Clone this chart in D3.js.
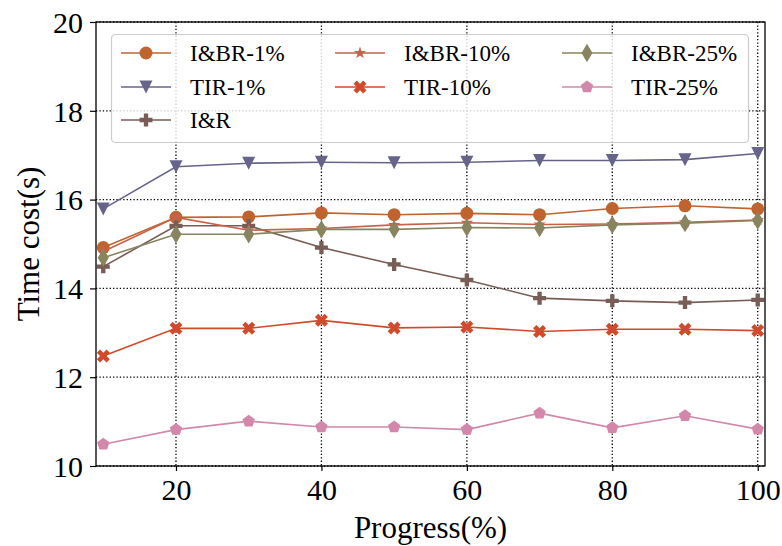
<!DOCTYPE html>
<html>
<head>
<meta charset="utf-8">
<script src="https://cdn.jsdelivr.net/npm/d3@7/dist/d3.min.js"></script>
<style>
  html, body { margin: 0; padding: 0; background: #fff; }
  svg { display: block; font-family: "Liberation Serif", "Times New Roman", serif; }
</style>
</head>
<body>
<svg id="chart" width="782" height="546"></svg>
<script>
// ---- data ----
const progress = [10, 20, 30, 40, 50, 60, 70, 80, 90, 100];
const xTicks = [20, 40, 60, 80, 100];
const yTicks = [10, 12, 14, 16, 18, 20];

const ibr1  = [14.92, 15.60, 15.61, 15.70, 15.66, 15.69, 15.66, 15.80, 15.86, 15.79];
const tir1  = [15.79, 16.74, 16.82, 16.84, 16.83, 16.84, 16.88, 16.88, 16.90, 17.04];
const ir    = [14.49, 15.41, 15.41, 14.92, 14.54, 14.19, 13.78, 13.72, 13.68, 13.74];
const ibr10 = [14.83, 15.60, 15.31, 15.35, 15.43, 15.48, 15.44, 15.45, 15.49, 15.54];
const tir10 = [12.48, 13.10, 13.10, 13.28, 13.11, 13.13, 13.03, 13.08, 13.08, 13.05];
const ibr25 = [14.69, 15.22, 15.22, 15.33, 15.33, 15.37, 15.36, 15.43, 15.47, 15.53];
const tir25 = [10.49, 10.82, 11.01, 10.88, 10.88, 10.82, 11.19, 10.86, 11.13, 10.83];

const seriesNames   = ["I&BR-1%", "TIR-1%", "I&R", "I&BR-10%", "TIR-10%", "I&BR-25%", "TIR-25%"];
const seriesValues  = [ibr1, tir1, ir, ibr10, tir10, ibr25, tir25];
const seriesColors  = ["#c0642f", "#67648c", "#785d56", "#c9604b", "#d04b2b", "#88845f", "#d388ab"];
const seriesMarkers = ["circle", "tridown", "plus", "star", "xfill", "thindiamond", "pentagon"];

// ---- layout ----
const W = 782, H = 546;
const plot = { left: 96, right: 765, top: 22, bottom: 466 };
const x = d3.scaleLinear().domain([9, 101]).range([plot.left, plot.right]);
const y = d3.scaleLinear().domain([10, 20]).range([plot.bottom, plot.top]);
const MS = 13;

const svg = d3.select("#chart");
svg.append("rect").attr("width", W).attr("height", H).attr("fill", "#fff");

// marker paths (centered at origin, extent based on ms)
function poly(pts) { return "M" + pts.map(p => p[0].toFixed(2) + "," + p[1].toFixed(2)).join("L") + "Z"; }
function markerPath(type, ms) {
  const h = ms / 2;
  switch (type) {
    case "circle":
      return d3.symbol(d3.symbolCircle, Math.PI * h * h)();
    case "tridown":
      return poly([[-h, -h], [h, -h], [0, h]]);
    case "plus": {
      const a = ms / 6;
      return poly([[-a,-3*a],[a,-3*a],[a,-a],[3*a,-a],[3*a,a],[a,a],[a,3*a],[-a,3*a],[-a,a],[-3*a,a],[-3*a,-a],[-a,-a]]);
    }
    case "xfill": {
      const s = ms / 4;
      return poly([[-1,-2],[0,-1],[1,-2],[2,-1],[1,0],[2,1],[1,2],[0,1],[-1,2],[-2,1],[-1,0],[-2,-1]].map(p => [p[0]*s, p[1]*s]));
    }
    case "star": {
      const pts = [];
      for (let i = 0; i < 10; i++) {
        const r = i % 2 === 0 ? h : h * 0.381966;
        const ang = -Math.PI / 2 + i * Math.PI / 5;
        pts.push([r * Math.cos(ang), r * Math.sin(ang)]);
      }
      return poly(pts);
    }
    case "pentagon": {
      const pts = [];
      for (let i = 0; i < 5; i++) {
        const ang = -Math.PI / 2 + i * 2 * Math.PI / 5;
        pts.push([h * Math.cos(ang), h * Math.sin(ang)]);
      }
      return poly(pts);
    }
    case "thindiamond": {
      const v = ms * Math.SQRT1_2;
      return poly([[0, -v], [0.6 * v, 0], [0, v], [-0.6 * v, 0]]);
    }
  }
}

// ---- grid ----
const grid = svg.append("g");
xTicks.forEach(t => {
  grid.append("line").attr("x1", x(t)).attr("x2", x(t)).attr("y1", plot.top).attr("y2", plot.bottom)
    .attr("stroke", "#000").attr("stroke-width", 1.3).attr("stroke-dasharray", "1.3,2.1");
});
yTicks.forEach(t => {
  grid.append("line").attr("x1", plot.left).attr("x2", plot.right).attr("y1", y(t)).attr("y2", y(t))
    .attr("stroke", "#000").attr("stroke-width", 1.3).attr("stroke-dasharray", "1.3,2.1");
});

// ---- series ----
const line = d3.line().x((d, i) => x(progress[i])).y(d => y(d));
const dataG = svg.append("g");
seriesValues.forEach((vals, k) => {
  const g = dataG.append("g");
  g.append("path").attr("d", line(vals)).attr("fill", "none")
    .attr("stroke", seriesColors[k]).attr("stroke-width", 1.6);
  g.selectAll("path.m").data(vals).enter().append("path").attr("class", "m")
    .attr("d", markerPath(seriesMarkers[k], MS))
    .attr("transform", (d, i) => `translate(${x(progress[i])},${y(d)})`)
    .attr("fill", seriesColors[k]);
});

// ---- frame & axes ----
svg.append("rect").attr("x", plot.left).attr("y", plot.top)
  .attr("width", plot.right - plot.left).attr("height", plot.bottom - plot.top)
  .attr("fill", "none").attr("stroke", "#000").attr("stroke-width", 1.3);

const xAxis = d3.axisBottom(x).tickValues(xTicks).tickSize(5).tickPadding(8).tickFormat(d3.format("d"));
const yAxis = d3.axisLeft(y).tickValues(yTicks).tickSize(6).tickPadding(7).tickFormat(d3.format("d"));

const gx = svg.append("g").attr("transform", `translate(0,${plot.bottom})`).call(xAxis);
const gy = svg.append("g").attr("transform", `translate(${plot.left},0)`).call(yAxis);
[gx, gy].forEach(g => {
  g.select(".domain").remove();
  g.selectAll(".tick line").attr("stroke", "#000").attr("stroke-width", 1.2);
  g.selectAll(".tick text").attr("fill", "#000").attr("font-size", 30)
    .attr("font-family", "'Liberation Serif', 'Times New Roman', serif");
});
gy.selectAll(".tick text").attr("dy", "0.34em");
gx.selectAll(".tick text").attr("dy", "0.71em");

// axis titles
svg.append("text").attr("x", (plot.left + plot.right) / 2).attr("y", 538)
  .attr("text-anchor", "middle").attr("font-size", 31).attr("fill", "#000").text("Progress(%)");
svg.append("text").attr("transform", "translate(39,244) rotate(-90)")
  .attr("text-anchor", "middle").attr("font-size", 31).attr("fill", "#000").text("Time cost(s)");

// ---- legend ----
const lg = svg.append("g");
lg.append("rect").attr("x", 111.5).attr("y", 34.5).attr("width", 637).attr("height", 108).attr("rx", 4)
  .attr("fill", "#fff").attr("fill-opacity", 0.8).attr("stroke", "#cccccc").attr("stroke-width", 1.2);
const colX = [121, 335, 562];
const rowY = [53, 87, 120];
const perCol = [3, 2, 2];
let idx = 0;
perCol.forEach((n, c) => {
  for (let r = 0; r < n; r++, idx++) {
    const k = idx;
    const ly = rowY[r], lx = colX[c];
    lg.append("line").attr("x1", lx).attr("x2", lx + 50).attr("y1", ly).attr("y2", ly)
      .attr("stroke", seriesColors[k]).attr("stroke-width", 1.6);
    lg.append("path").attr("d", markerPath(seriesMarkers[k], MS))
      .attr("transform", `translate(${lx + 25},${ly})`).attr("fill", seriesColors[k]);
    lg.append("text").attr("x", lx + 69).attr("y", ly).attr("dy", "0.35em")
      .attr("font-size", 23).attr("fill", "#000").text(seriesNames[k]);
  }
});
</script>
</body>
</html>
